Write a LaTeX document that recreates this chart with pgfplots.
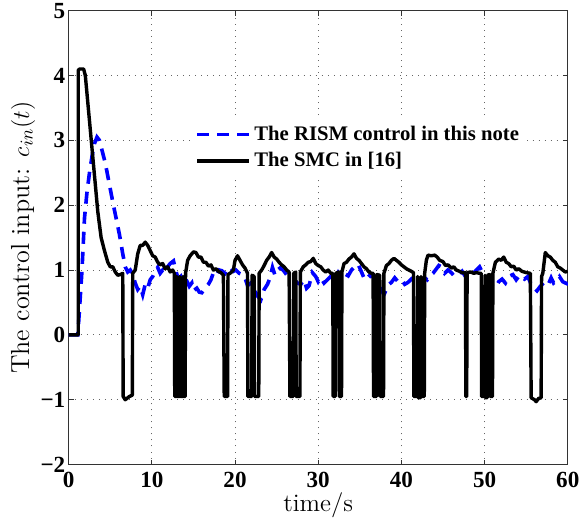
\documentclass[border=0pt]{standalone}
\usepackage{pgfplots}
\pgfplotsset{compat=1.18}
\usepackage{fontspec}
\newfontfamily\tnr{Liberation Serif}
\begin{document}
\begin{tikzpicture}
\begin{axis}[
  scale only axis,
  width=248.5pt, height=226pt,
  xmin=0, xmax=60, ymin=-2, ymax=5,
  xtick={0,10,20,30,40,50,60},
  ytick={-2,-1,0,1,2,3,4,5},
  xticklabels={0,10,20,30,40,50,60},
  yticklabels={−2,−1,0,1,2,3,4,5},
  tick label style={font=\tnr\bfseries\fontsize{11.5}{13}\selectfont},
  yticklabel style={inner sep=1.5pt},
  tick align=inside,
  major tick length=2.5pt,
  axis line style={black!80, line width=0.6pt},
  tick style={black!80, line width=0.5pt},
  grid=major,
  grid style={black!60, line width=0.5pt, dash pattern=on 0.5pt off 2.5pt},
  xlabel={time/s},
  ylabel={\rule[-2.5pt]{0pt}{16pt}The control input: $c_{in}(t)$},
  xlabel style={font=\fontsize{12.5}{14}\selectfont, yshift=4pt},
  ylabel style={font=\fontsize{13}{15}\selectfont, inner sep=1pt},
  legend style={draw=none, fill=white, at={(0.245,0.765)}, anchor=north west,
    font=\tnr\bfseries\fontsize{10.3}{12}\selectfont, inner sep=2pt,
    row sep=0.5pt},
  legend cell align=left,
  legend image code/.code={\draw[#1] (0cm,0cm) -- (0.9cm,0cm);},
]
\addplot[blue, line width=1.8pt, dash pattern=on 6pt off 4pt] coordinates {
(0,0)(1.1,0)(1.3,0.4)(1.6,1.0)(1.9,1.8)(2.2,2.2)(2.5,2.5)(2.8,2.75)(3.1,2.95)(3.4,3.05)(3.7,3.0)(4.0,2.85)(4.4,2.65)(4.7,2.45)(5.0,2.25)(5.3,2.05)(5.7,1.8)(6.1,1.55)(6.5,1.25)(6.8,1.05)(7.1,0.97)(7.4,1.0)(7.7,0.93)(8.0,0.8)(8.3,0.7)(8.6,0.75)(8.9,0.62)(9.2,0.78)(9.5,0.72)(9.8,0.85)(10.1,0.9)(10.4,0.98)(10.7,1.04)(11.0,0.95)(11.3,1.0)(11.6,0.97)(11.9,1.05)(12.2,1.1)(12.6,1.14)(12.9,0.98)(13.2,0.85)(13.5,0.9)(13.8,0.82)(14.2,0.83)(14.5,0.75)(14.8,0.8)(15.0,0.68)(15.4,0.72)(15.7,0.66)(16.0,0.65)(16.4,0.72)(16.8,0.78)(17.1,0.85)(17.4,0.96)(17.8,0.92)(18.1,1.0)(18.4,0.99)(18.8,0.95)(19.1,1.02)(19.4,1.04)(19.8,0.98)(20.1,1.0)(20.5,0.95)(20.9,0.93)(21.2,0.88)(21.5,0.76)(21.9,0.8)(22.3,0.7)(22.7,0.6)(23.1,0.54)(23.5,0.7)(23.9,0.78)(24.2,0.88)(24.5,1.04)(24.8,0.92)(25.1,1.0)(25.5,1.04)(25.9,0.98)(26.3,0.91)(26.7,0.88)(27.1,0.85)(27.5,0.8)(27.9,0.78)(28.3,0.85)(28.6,0.72)(28.9,0.76)(29.3,0.96)(29.7,0.9)(30.0,0.82)(30.3,0.88)(30.7,0.8)(31.1,0.85)(31.5,0.9)(31.9,0.82)(32.4,0.96)(32.8,0.88)(33.2,0.94)(33.6,0.91)(34.0,1.0)(34.3,1.04)(34.8,1.09)(35.1,1.0)(35.5,0.88)(35.9,0.95)(36.3,0.9)(36.7,0.91)(37.1,0.8)(37.5,0.72)(37.9,0.62)(38.2,0.7)(38.5,0.78)(38.8,0.81)(39.2,0.88)(39.6,0.82)(40.0,0.85)(40.4,0.78)(40.8,0.81)(41.2,0.86)(41.6,0.8)(42.0,0.84)(42.4,0.83)(42.8,0.88)(43.1,0.85)(43.4,0.91)(43.8,0.95)(44.1,1.0)(44.5,1.07)(44.8,1.05)(45.2,0.95)(45.6,1.0)(46.0,0.96)(46.4,0.9)(46.9,0.93)(47.3,0.98)(47.7,0.9)(48.1,0.96)(48.6,0.94)(49.0,1.0)(49.4,1.05)(49.8,0.95)(50.2,0.88)(50.6,0.82)(51.0,0.75)(51.3,0.73)(51.7,0.82)(52.1,0.86)(52.5,0.8)(52.9,0.9)(53.4,0.93)(53.8,0.85)(54.2,0.92)(54.8,0.86)(55.2,0.9)(55.6,0.78)(56.0,0.72)(56.3,0.68)(56.7,0.75)(57.1,0.8)(57.6,0.76)(58.0,0.88)(58.3,0.8)(58.6,0.83)(59.0,0.9)(59.4,0.82)(59.9,0.79)(60,0.8)
};
\addlegendentry{The RISM control in this note}
\addplot[black, line width=1.7pt, line join=round] coordinates {
(0,0)(1.15,0)(1.15,4.08)(1.3,4.1)(1.8,4.1)(2.0,4.0)(2.5,3.3)(3.0,2.6)(3.5,1.9)(3.9,1.5)(4.3,1.3)(4.7,1.12)(5.0,1.05)(5.3,1.05)(5.6,0.97)(5.9,0.92)(6.2,0.93)(6.5,0.95)(6.55,-0.95)(6.8,-1.0)(7.0,-0.98)(7.3,-0.95)(7.65,-0.93)(7.7,0.95)(8.0,1.0)(8.3,1.25)(8.6,1.38)(8.9,1.38)(9.2,1.43)(9.5,1.38)(9.8,1.3)(10.1,1.22)(10.4,1.2)(10.7,1.12)(11.0,1.08)(11.3,1.1)(11.6,1.02)(11.9,1.05)(12.2,0.97)(12.5,1.0)(12.7,0.95)(12.75,-0.95)(12.95,-0.95)(13.0,0.9)(13.05,-0.95)(13.3,-0.95)(13.35,0.9)(13.45,-0.95)(13.7,-0.95)(13.75,0.9)(13.8,-0.95)(14.0,-0.95)(14.05,0.95)(14.3,1.15)(14.6,1.22)(15.0,1.28)(15.3,1.27)(15.6,1.2)(15.9,1.2)(16.2,1.12)(16.5,1.12)(16.8,1.06)(17.1,1.08)(17.4,1.0)(17.7,1.02)(18.0,0.98)(18.3,0.96)(18.6,0.92)(18.7,-0.95)(19.1,-0.95)(19.15,0.93)(19.5,0.96)(19.8,1.0)(20.0,1.15)(20.3,1.22)(20.6,1.15)(20.9,1.08)(21.2,1.03)(21.5,0.95)(21.55,-0.95)(22.0,-0.95)(22.05,0.92)(22.3,0.9)(22.35,-0.95)(22.85,-0.95)(22.9,0.95)(23.2,1.0)(23.5,1.07)(23.8,1.15)(24.1,1.2)(24.4,1.27)(24.7,1.2)(25.0,1.17)(25.3,1.12)(25.6,1.08)(25.9,1.05)(26.2,1.0)(26.5,0.97)(26.6,-0.95)(27.0,-0.95)(27.05,0.95)(27.3,0.97)(27.35,-0.95)(27.8,-0.95)(27.85,0.97)(28.2,1.05)(28.5,1.08)(28.8,1.12)(29.1,1.13)(29.4,1.18)(29.7,1.1)(30.0,1.07)(30.3,1.05)(30.6,1.0)(30.9,0.97)(31.2,1.0)(31.5,0.95)(31.75,0.95)(31.8,-0.95)(32.05,-0.95)(32.1,0.95)(32.5,0.97)(32.55,-0.95)(32.8,-0.95)(32.85,0.97)(33.1,1.1)(33.4,1.12)(33.7,1.17)(34.0,1.2)(34.3,1.25)(34.6,1.18)(34.9,1.15)(35.2,1.1)(35.5,1.05)(35.8,1.02)(36.1,0.97)(36.4,0.95)(36.6,0.95)(36.65,-0.95)(37.0,-0.95)(37.05,0.93)(37.4,0.92)(37.45,-0.95)(37.85,-0.95)(37.9,0.95)(38.2,1.07)(38.5,1.1)(38.8,1.15)(39.1,1.18)(39.4,1.15)(39.7,1.12)(40.0,1.08)(40.3,1.05)(40.6,1.02)(40.9,1.0)(41.2,0.98)(41.45,0.96)(41.5,-0.95)(41.9,-0.95)(41.95,0.9)(42.0,-0.97)(42.3,-0.97)(42.35,0.9)(42.4,-0.95)(42.75,-0.95)(42.8,0.95)(43.0,1.15)(43.2,1.23)(43.6,1.22)(44.0,1.23)(44.3,1.2)(44.6,1.15)(45.0,1.13)(45.3,1.07)(45.6,1.08)(46.0,1.03)(46.3,1.05)(46.6,1.0)(47.0,0.98)(47.3,0.96)(47.7,0.96)(47.75,-0.95)(47.85,-0.95)(47.9,0.96)(48.3,0.97)(48.7,0.95)(49.0,0.96)(49.4,0.95)(49.6,0.95)(49.65,-0.95)(50.0,-0.95)(50.05,0.92)(50.1,-0.97)(50.3,-0.97)(50.35,0.92)(50.6,0.93)(50.65,-0.95)(50.95,-0.95)(51.0,0.95)(51.3,1.12)(51.7,1.17)(52.0,1.15)(52.3,1.2)(52.6,1.12)(52.9,1.1)(53.2,1.05)(53.5,1.06)(53.8,1.0)(54.1,1.02)(54.5,0.98)(55.0,0.96)(55.5,0.95)(55.6,-0.97)(56.0,-1.0)(56.2,-1.03)(56.5,-0.98)(56.8,-0.97)(56.85,0.9)(57.0,0.95)(57.3,1.27)(57.6,1.22)(57.9,1.2)(58.2,1.15)(58.5,1.12)(58.8,1.05)(59.1,1.03)(59.4,1.0)(59.7,0.97)(60,0.98)
};
\addlegendentry{The SMC in [16]}
\end{axis}
\end{tikzpicture}
\end{document}
